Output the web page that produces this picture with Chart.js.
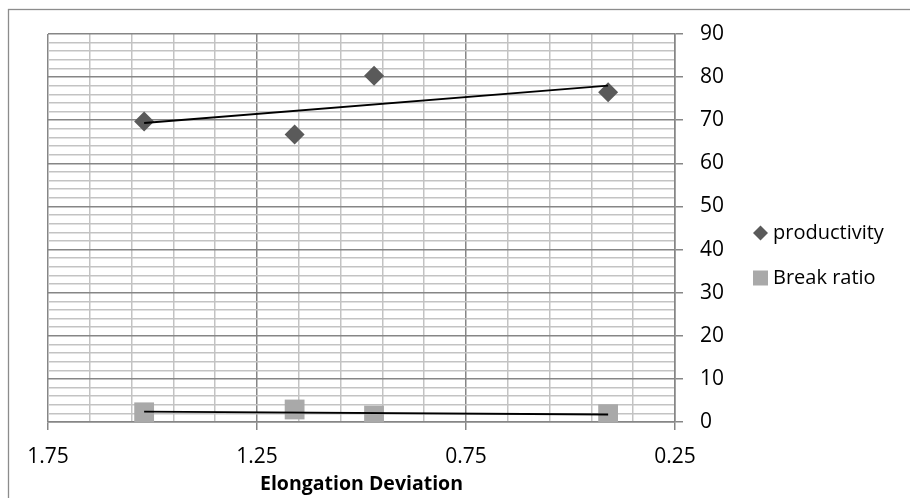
<!DOCTYPE html>
<html>
<head>
<meta charset="utf-8">
<script src="https://cdn.jsdelivr.net/npm/chart.js@4.4.1/dist/chart.umd.min.js"></script>
<style>
  html, body { margin: 0; padding: 0; background: #fff; }
  #wrap { width: 910px; height: 498px; }
</style>
</head>
<body>
<div id="wrap"><canvas id="chart" width="910" height="498"></canvas></div>
<script>
// Elongation deviation vs productivity / break ratio
const elongation = [1.52, 1.16, 0.97, 0.41];
const productivity = [69.7, 66.7, 80.3, 76.5];
const breakRatio = [2.25, 2.9, 1.5, 1.8];

const xTickLabels = [1.75, 1.25, 0.75, 0.25];
const yTickLabels = [0, 10, 20, 30, 40, 50, 60, 70, 80, 90];

const FONT = '"Open Sans", "DejaVu Sans", sans-serif';
const MAJOR_GRID = '#868686';
const MINOR_GRID = '#c3c3c3';

// least squares line over the x range of the points
function trendLine(xs, ys) {
    const n = xs.length;
    const mx = xs.reduce((a, b) => a + b, 0) / n;
    const my = ys.reduce((a, b) => a + b, 0) / n;
    let sxy = 0, sxx = 0;
    for (let i = 0; i < n; i++) {
        sxy += (xs[i] - mx) * (ys[i] - my);
        sxx += (xs[i] - mx) * (xs[i] - mx);
    }
    const slope = sxy / sxx;
    const x0 = Math.min(...xs), x1 = Math.max(...xs);
    return [
        { x: x0, y: my + slope * (x0 - mx) },
        { x: x1, y: my + slope * (x1 - mx) }
    ];
}

function toPoints(xs, ys) {
    return xs.map((x, i) => ({ x: x, y: ys[i] }));
}

function isMajorX(v) {
    return xTickLabels.some(t => Math.abs(t - v) < 1e-6);
}
function isMajorY(v) {
    return yTickLabels.some(t => Math.abs(t - v) < 1e-6);
}

// outer frame of the chart area
const framePlugin = {
    id: 'frame',
    beforeDraw(chart) {
        const ctx = chart.ctx;
        ctx.save();
        ctx.strokeStyle = '#8c8c8c';
        ctx.lineWidth = 1.3;
        ctx.strokeRect(8.5, 9.5, 1000, 1000);
        ctx.restore();
    }
};

// legend to the right of the value axis
const sideLegend = {
    id: 'sideLegend',
    afterDraw(chart) {
        const ctx = chart.ctx;
        const items = chart.data.datasets.filter(d => d.type === 'scatter');
        const left = 753, rows = [233, 278];
        ctx.save();
        ctx.font = '20px ' + FONT;
        ctx.textBaseline = 'middle';
        ctx.fillStyle = '#000';
        items.forEach((d, i) => {
            const y = rows[i];
            ctx.fillStyle = d.backgroundColor;
            ctx.beginPath();
            if (d.pointStyle === 'rectRot') {
                const cx = left + 7.5, r = 7.5;
                ctx.moveTo(cx - r, y);
                ctx.lineTo(cx, y - r);
                ctx.lineTo(cx + r, y);
                ctx.lineTo(cx, y + r);
                ctx.closePath();
            } else {
                ctx.rect(left, y - 7.5, 15, 15);
            }
            ctx.fill();
            ctx.fillStyle = '#000';
            ctx.fillText(d.label, left + 20, y);
        });
        ctx.restore();
    }
};

const ctx = document.getElementById('chart');
new Chart(ctx, {
    data: {
        datasets: [
            {
                type: 'line',
                data: trendLine(elongation, productivity),
                borderColor: '#000',
                borderWidth: 1.8,
                pointRadius: 0,
                fill: false,
                order: 0
            },
            {
                type: 'line',
                data: trendLine(elongation, breakRatio),
                borderColor: '#000',
                borderWidth: 1.8,
                pointRadius: 0,
                fill: false,
                order: 0
            },
            {
                type: 'scatter',
                label: 'productivity',
                data: toPoints(elongation, productivity),
                backgroundColor: '#5a5a5a',
                pointStyle: 'rectRot',
                pointRadius: 10,
                pointBorderWidth: 0,
                order: 1
            },
            {
                type: 'scatter',
                label: 'Break ratio',
                data: toPoints(elongation, breakRatio),
                backgroundColor: '#a9a9a9',
                pointStyle: 'rect',
                pointRadius: 14,
                pointBorderWidth: 0,
                order: 1
            }
        ]
    },
    options: {
        responsive: false,
        animation: false,
        layout: { padding: { left: 48, top: 34, right: 0, bottom: 0 } },
        plugins: {
            legend: { display: false },
            tooltip: { enabled: false }
        },
        scales: {
            x: {
                type: 'linear',
                reverse: true,
                min: 0.25,
                max: 1.75,
                afterBuildTicks(scale) {
                    const ticks = [];
                    for (let i = 0; i <= 15; i++) {
                        ticks.push({ value: Math.round((0.25 + i * 0.1) * 100) / 100 });
                    }
                    scale.ticks = ticks;
                },
                afterFit(scale) { scale.height = 76; },
                border: { color: MAJOR_GRID, width: 1.5 },
                grid: {
                    color: c => isMajorX(c.tick.value) ? MAJOR_GRID : MINOR_GRID,
                    lineWidth: 1.5,
                    tickLength: 8,
                    tickColor: c => isMajorX(c.tick.value) ? MAJOR_GRID : 'rgba(0,0,0,0)'
                },
                ticks: {
                    autoSkip: false,
                    maxRotation: 0,
                    padding: 14,
                    color: '#000',
                    font: { family: FONT, size: 21 },
                    callback: v => isMajorX(v) ? Number(v).toFixed(2) : ''
                },
                title: {
                    display: true,
                    text: 'Elongation Deviation',
                    color: '#000',
                    font: { family: FONT, size: 19.5, weight: 'bold' },
                    padding: { top: 0, bottom: 2 }
                }
            },
            y: {
                type: 'linear',
                position: 'right',
                min: 0,
                max: 90,
                ticks: {
                    stepSize: 2,
                    autoSkip: false,
                    padding: 17,
                    color: '#000',
                    font: { family: FONT, size: 21 },
                    callback: v => isMajorY(v) ? String(v) : ''
                },
                afterFit(scale) { scale.width = 235; },
                border: { color: MAJOR_GRID, width: 1.5 },
                grid: {
                    color: c => isMajorY(c.tick.value) ? MAJOR_GRID : MINOR_GRID,
                    lineWidth: 1.5,
                    tickLength: 8,
                    tickColor: c => isMajorY(c.tick.value) ? MAJOR_GRID : 'rgba(0,0,0,0)'
                }
            }
        }
    },
    plugins: [framePlugin, sideLegend]
});
</script>
</body>
</html>
